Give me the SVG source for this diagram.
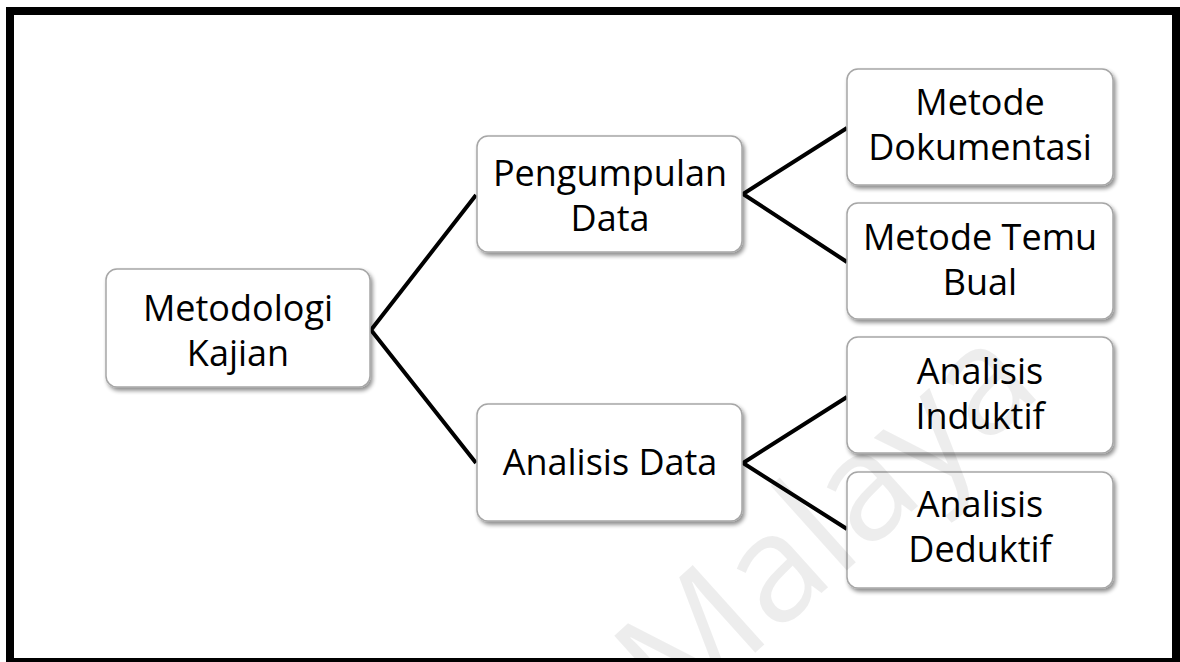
<svg xmlns="http://www.w3.org/2000/svg" width="1180" height="662" viewBox="0 0 1180 662">
  <defs>
    <filter id="sh" x="-10%" y="-10%" width="125%" height="130%">
      <feGaussianBlur in="SourceAlpha" stdDeviation="2"/>
      <feOffset dx="2" dy="3" result="b"/>
      <feComponentTransfer><feFuncA type="linear" slope="0.45"/></feComponentTransfer>
      <feMerge><feMergeNode/><feMergeNode in="SourceGraphic"/></feMerge>
    </filter>
  </defs>
  <style>
    .box { fill: #ffffff; stroke: #a6a6a6; stroke-width: 1.5; filter: url(#sh); }
    .lbl { font-family: "Open Sans", "Liberation Sans", sans-serif; font-size: 36px; fill: #000; text-anchor: middle; }
    .con { stroke: #000; stroke-width: 4; fill: none; stroke-linejoin: miter; }
  </style>
  <rect x="0" y="0" width="1180" height="662" fill="#ffffff"/>
  <rect x="10" y="11" width="1166" height="651" fill="none" stroke="#000" stroke-width="8"/>

  <g id="connectors">
    <polyline class="con" points="476,195 371,330 476,463"/>
    <polyline class="con" points="847,128 743,194 847,262"/>
    <polyline class="con" points="847,397 743,463 847,529"/>
  </g>

  <g id="n-metodologi">
    <rect class="box" x="106" y="269" width="264" height="118" rx="11"/>
    <text class="lbl" x="238" y="321">Metodologi</text>
    <text class="lbl" x="238" y="366">Kajian</text>
  </g>
  <g id="n-pengumpulan">
    <rect class="box" x="477" y="136" width="265" height="116" rx="11"/>
    <text class="lbl" x="610" y="186">Pengumpulan</text>
    <text class="lbl" x="610" y="231">Data</text>
  </g>
  <g id="n-analisis-data">
    <rect class="box" x="477" y="404" width="265" height="117" rx="11"/>
    <text class="lbl" x="610" y="475">Analisis Data</text>
  </g>
  <g id="n-dokumentasi">
    <rect class="box" x="847" y="69" width="266" height="116" rx="11"/>
    <text class="lbl" x="980" y="115">Metode</text>
    <text class="lbl" x="980" y="160">Dokumentasi</text>
  </g>
  <g id="n-temu-bual">
    <rect class="box" x="847" y="203" width="266" height="116" rx="11"/>
    <text class="lbl" x="980" y="250">Metode Temu</text>
    <text class="lbl" x="980" y="295">Bual</text>
  </g>
  <g id="n-induktif">
    <rect class="box" x="847" y="337" width="266" height="116" rx="11"/>
    <text class="lbl" x="980" y="384">Analisis</text>
    <text class="lbl" x="980" y="429">Induktif</text>
  </g>
  <g id="n-deduktif">
    <rect class="box" x="847" y="472" width="266" height="116" rx="11"/>
    <text class="lbl" x="980" y="517">Analisis</text>
    <text class="lbl" x="980" y="562">Deduktif</text>
  </g>

  <text x="0" y="0" transform="translate(675,725) rotate(-42)" font-family="'Open Sans', 'Liberation Sans', sans-serif" font-size="150" fill="#000" fill-opacity="0.07">Malaya</text>
</svg>
